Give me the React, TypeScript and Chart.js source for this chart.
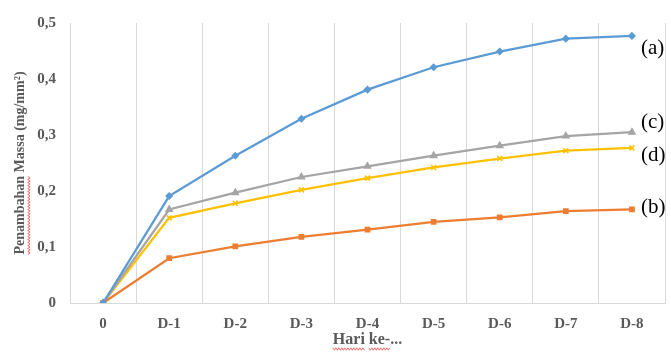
import React, { useEffect, useRef } from "react";
import { Chart, registerables } from "chart.js";

Chart.register(...registerables);

const categories = ["0", "D-1", "D-2", "D-3", "D-4", "D-5", "D-6", "D-7", "D-8"];
const seriesA = [0, 0.191, 0.263, 0.329, 0.381, 0.421, 0.449, 0.472, 0.477];
const seriesB = [0, 0.08, 0.101, 0.118, 0.131, 0.145, 0.153, 0.164, 0.167];
const seriesC = [0, 0.167, 0.197, 0.225, 0.244, 0.263, 0.281, 0.298, 0.305];
const seriesD = [0, 0.152, 0.178, 0.202, 0.223, 0.242, 0.258, 0.272, 0.277];
const seriesNames = ["(a)", "(b)", "(c)", "(d)"];
const labelValues = [0.455, 0.171, 0.322, 0.263];
const yTitleText = "Penambahan Massa (mg/mm²)";
const xTitleText = "Hari ke-...";

const SERIF = '"Liberation Serif", "Times New Roman", serif';
const GRAY_TEXT = "#595959";
const Y_TITLE_FONT = `bold 14px ${SERIF}`;
const X_TITLE_FONT = `bold 16px ${SERIF}`;

function wavy(ctx: any, x0: number, y0: number, len: number, vertical: boolean) {
  ctx.beginPath();
  const step = 1.5;
  let k = 0;
  for (let t = 0; t <= len; t += step, k++) {
    const off = k % 2 === 0 ? -1.2 : 1.2;
    if (vertical) {
      const px = x0 + off;
      const py = y0 - t;
      k === 0 ? ctx.moveTo(px, py) : ctx.lineTo(px, py);
    } else {
      const px = x0 + t;
      const py = y0 + off;
      k === 0 ? ctx.moveTo(px, py) : ctx.lineTo(px, py);
    }
  }
  ctx.stroke();
}

const seriesLabelPlugin = {
  id: "seriesLabels",
  afterDraw(chart: any) {
    const { ctx, chartArea, scales } = chart;
    ctx.save();
    ctx.font = `21px ${SERIF}`;
    ctx.fillStyle = "#000";
    ctx.textAlign = "left";
    ctx.textBaseline = "middle";
    seriesNames.forEach((n, i) => {
      ctx.fillText(n, chartArea.right - 24, scales.y.getPixelForValue(labelValues[i]));
    });

    // spell-check style wavy underlines
    ctx.strokeStyle = "rgba(240,60,60,0.75)";
    ctx.lineWidth = 1;
    // y title
    ctx.font = Y_TITLE_FONT;
    const wY = ctx.measureText(yTitleText).width;
    const wP = ctx.measureText("Penambahan").width;
    const cy = (chartArea.top + chartArea.bottom) / 2;
    const yTitleX = 12 + 8.4;
    wavy(ctx, yTitleX + 8.5, cy + wY / 2, wP, true);
    // x title
    ctx.font = X_TITLE_FONT;
    const wX = ctx.measureText(xTitleText).width;
    const wH = ctx.measureText("Hari").width;
    const wHs = ctx.measureText("Hari ").width;
    const wK = ctx.measureText("ke-").width;
    const cx = (scales.x.left + scales.x.right) / 2;
    const ly = 349;
    wavy(ctx, cx - wX / 2, ly, wH, false);
    wavy(ctx, cx - wX / 2 + wHs, ly, wK, false);
    ctx.restore();
  },
};

export default function App() {
  const ref = useRef<HTMLCanvasElement>(null);
  useEffect(() => {
    const c = ref.current!;
    const mk = (label: string, data: number[], color: string, style: any, r: number) => ({
      label,
      data,
      borderColor: color,
      backgroundColor: color,
      borderWidth: 2.25,
      pointStyle: style,
      pointRadius: r,
      pointBorderWidth: 1.5,
      pointBorderColor: color,
      pointBackgroundColor: color,
      tension: 0,
    });
    const chart = new Chart(c, {
      type: "line",
      data: {
        labels: categories,
        datasets: [
          mk(seriesNames[0], seriesA, "#5B9BD5", "rectRot", 3),
          mk(seriesNames[1], seriesB, "#ED7D31", "rect", 3),
          mk(seriesNames[2], seriesC, "#A5A5A5", "triangle", 3.5),
          mk(seriesNames[3], seriesD, "#FFC000", "crossRot", 3.5),
        ],
      },
      plugins: [seriesLabelPlugin],
      options: {
        responsive: false,
        animation: false,
        layout: { padding: { top: 16, right: 6, left: 0, bottom: 0 } },
        plugins: { legend: { display: false }, tooltip: { enabled: false } },
        scales: {
          x: {
            offset: true,
            grid: { offset: true, color: "#D9D9D9", lineWidth: 1, drawTicks: false },
            border: { display: true, color: "#D9D9D9" },
            ticks: {
              padding: 12,
              color: GRAY_TEXT,
              font: { family: SERIF, size: 15, weight: "bold" },
              maxRotation: 0,
            },
            title: {
              display: true,
              text: xTitleText,
              color: GRAY_TEXT,
              font: { family: SERIF, size: 16, weight: "bold" },
              padding: { top: 0, bottom: 4.4 },
            },
            afterFit(scale: any) {
              scale.height = 51;
            },
          },
          y: {
            min: 0,
            max: 0.5,
            grid: { display: false, drawTicks: false },
            border: { display: false },
            ticks: {
              stepSize: 0.1,
              padding: 14,
              color: GRAY_TEXT,
              font: { family: SERIF, size: 15, weight: "bold" },
              callback: (v: any) => (Number(v) === 0 ? "0" : Number(v).toFixed(1).replace(".", ",")),
            },
            title: {
              display: true,
              text: yTitleText,
              color: GRAY_TEXT,
              font: { family: SERIF, size: 14, weight: "bold" },
              padding: { top: 12, bottom: 0 },
            },
            afterFit(scale: any) {
              scale.width = 70;
            },
          },
        },
      },
    } as any);
    return () => chart.destroy();
  }, []);
  return (
    <div style={{ position: "absolute", left: 0, top: 0, width: 671, height: 354 }}>
      <canvas ref={ref} width={671} height={354} style={{ display: "block" }} />
    </div>
  );
}
